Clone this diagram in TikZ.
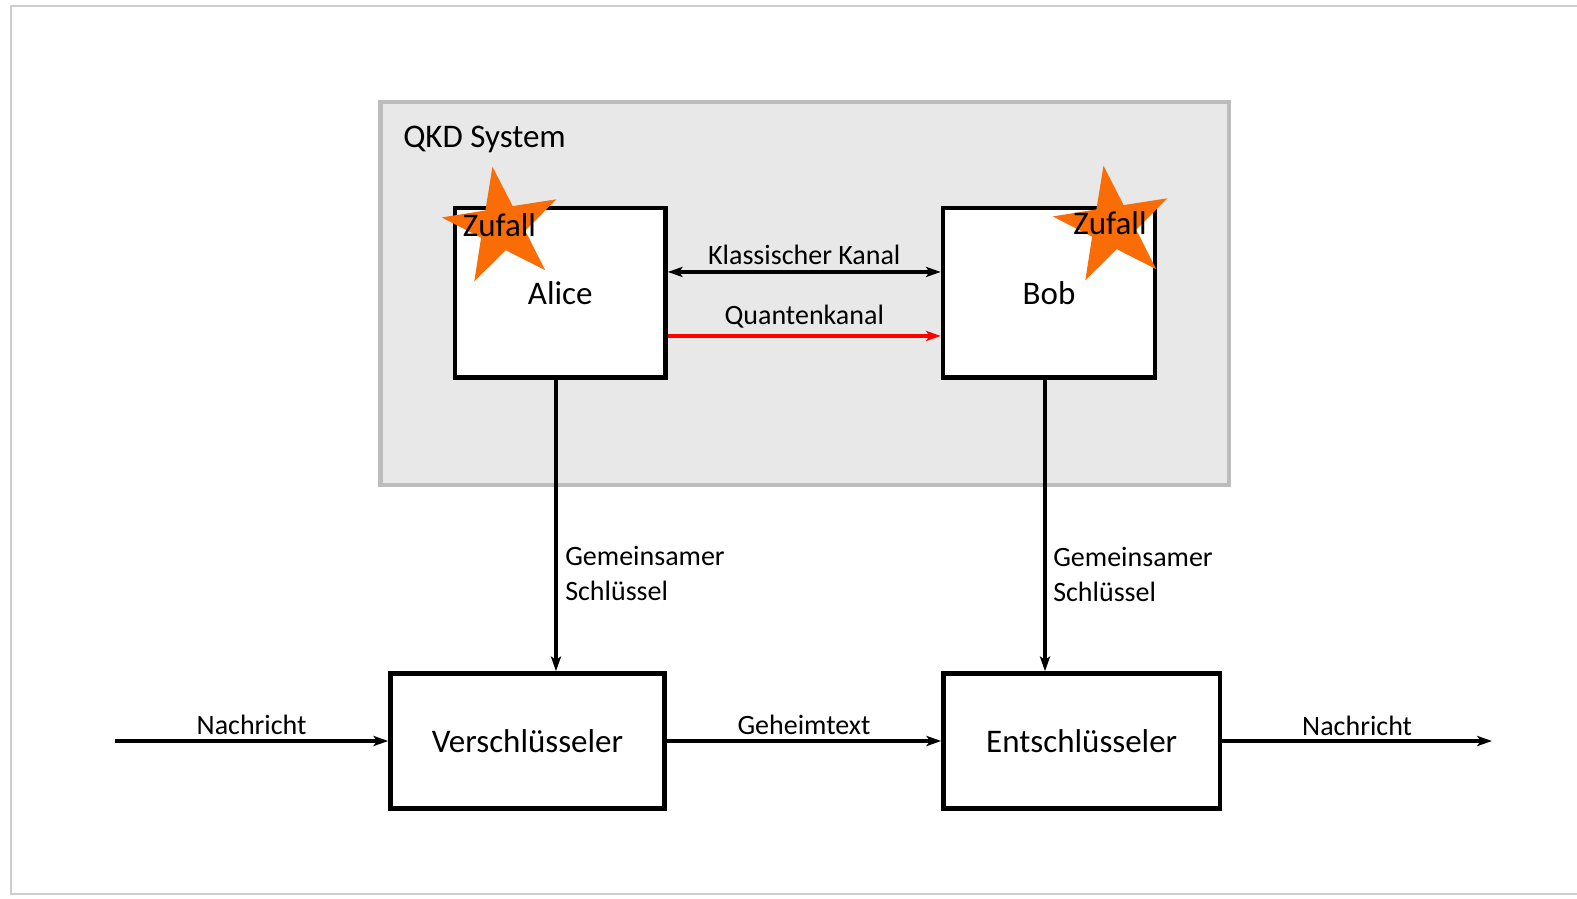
\documentclass[tikz,border=0pt]{standalone}
\usepackage{fontspec}
\setmainfont{Carlito}
\usetikzlibrary{arrows.meta,shapes.geometric}

\definecolor{starorange}{RGB}{250,108,5}
\definecolor{sysfill}{RGB}{232,232,232}
\definecolor{sysborder}{RGB}{188,188,188}
\definecolor{framegray}{RGB}{205,205,205}

\tikzset{
  block/.style={draw, line width=3.4pt, fill=white, inner sep=0pt, font=\fontsize{24.75}{30}\selectfont},
  flow/.style={line width=2.4pt, -{Stealth[length=11pt,width=7.5pt,inset=2.5pt]}},
  lbl/.style={inner sep=0pt, font=\fontsize{21}{25}\selectfont},
  bigtxt/.style={inner sep=0pt, font=\fontsize{24.75}{30}\selectfont},
  zufall/.style={star, star points=5, star point ratio=2.6, fill=starorange, minimum size=91.5pt, inner sep=0pt, rotate=9},
}

\begin{document}
\begin{tikzpicture}[x=0.75pt,y=0.75pt,yscale=-1,xscale=1]
\useasboundingbox (0,0) rectangle (1577,899);

%Straight Lines: page frame
\draw [framegray, line width=2pt] (1577,6) -- (11,6) -- (11,894) -- (1577,894) ;

%Shape: Rectangle: QKD system
\node [draw=sysborder, fill=sysfill, line width=3.5pt, minimum width=636.4pt, minimum height=287.3pt, inner sep=0pt] (qkd) at (804.75,293.5) {};
% Text Node
\node [bigtxt, anchor=base west] (qkdlabel) at (403,147) {QKD System};

%Shape: Rectangle
\node [block, minimum width=157.9pt, minimum height=127.1pt] (alice) at (560.25,292.75) {Alice};
%Shape: Rectangle
\node [block, minimum width=159pt, minimum height=127.1pt] (bob) at (1049,292.75) {Bob};
%Shape: Rectangle
\node [block, minimum width=205.5pt, minimum height=101.25pt] (enc) at (527.5,741) {Verschlüsseler};
%Shape: Rectangle
\node [block, minimum width=207.4pt, minimum height=101.25pt] (dec) at (1081.75,741) {Entschlüsseler};

%Shape: Star
\node [zufall] (starA) at (502,227) {};
\node [bigtxt, anchor=base] (zufallA) at (499.5,236) {Zufall};
%Shape: Star
\node [zufall] (starB) at (1113,226) {};
\node [bigtxt, anchor=base] (zufallB) at (1110,234) {Zufall};

%Straight Lines
\draw [flow, {Stealth[length=11pt,width=7.5pt,inset=2.5pt]}-{Stealth[length=11pt,width=7.5pt,inset=2.5pt]}] ([yshift=-15.6pt]alice.east) -- ([yshift=-15.6pt]bob.west) node [lbl, midway, anchor=base, yshift=5.25pt] {Klassischer Kanal} ;
%Straight Lines
\draw [flow, red] ([yshift=32.4pt]alice.east) -- ([yshift=32.4pt]bob.west) node [lbl, black, midway, anchor=base, yshift=8.25pt] {Quantenkanal} ;

%Straight Lines
\draw [flow] ([xshift=-3.2pt]alice.south) -- ([xshift=-3.2pt]alice.south |- enc.north) ;
\draw [flow] ([xshift=-3pt]bob.south) -- ([xshift=-3pt]bob.south |- dec.north) ;
% Text Node
\node [lbl, anchor=base west] (keyA1) at (565,565) {Gemeinsamer};
\node [lbl, anchor=base west] (keyA2) at (565,600) {Schlüssel};
% Text Node
\node [lbl, anchor=base west] (keyB1) at (1053,566) {Gemeinsamer};
\node [lbl, anchor=base west] (keyB2) at (1053,601) {Schlüssel};

%Straight Lines
\coordinate (msgin) at (115,741);
\coordinate (msgout) at (1492,741);
\draw [flow] (msgin) -- (enc.west) node [lbl, midway, anchor=base, yshift=5.25pt] {Nachricht} ;
\draw [flow] (enc.east) -- (dec.west) node [lbl, midway, anchor=base, yshift=5.25pt] {Geheimtext} ;
\draw [flow] (dec.east) -- (msgout) node [lbl, midway, anchor=base, yshift=4.5pt] {Nachricht} ;

\end{tikzpicture}
\end{document}
